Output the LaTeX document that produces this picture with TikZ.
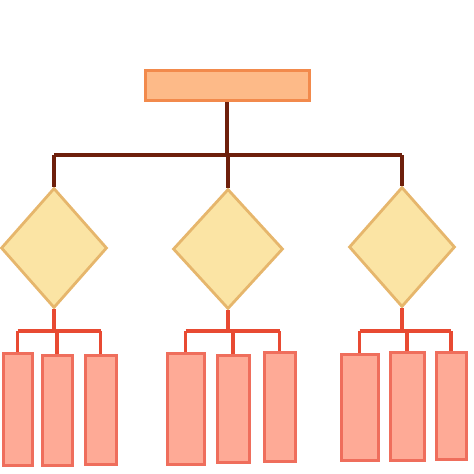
\documentclass[tikz,border=0pt]{standalone}
\usetikzlibrary{shapes.geometric}
\definecolor{topfill}{HTML}{FDBA88}
\definecolor{topline}{HTML}{F28A4C}
\definecolor{brownline}{HTML}{6E200C}
\definecolor{diafill}{HTML}{FBE4A4}
\definecolor{dialine}{HTML}{E6B66C}
\definecolor{redline}{HTML}{E84A32}
\definecolor{leaffill}{HTML}{FEAA96}
\definecolor{leafline}{HTML}{EF6E5C}
\tikzset{
  topbox/.style={draw=topline, fill=topfill, line width=3pt, minimum width=164pt, minimum height=30pt, inner sep=0pt},
  decision/.style={diamond, draw=dialine, fill=diafill, line width=2.8pt, inner sep=0pt, minimum width=#1, minimum height=120pt},
  leaf/.style={draw=leafline, fill=leaffill, line width=3pt, inner sep=0pt},
  trunk/.style={draw=brownline, line width=3.2pt},
  branch/.style={draw=redline, line width=3.2pt}
}
\begin{document}
\begin{tikzpicture}[x=1pt,y=-1pt]
\useasboundingbox (0,0) rectangle (474,474);
\node[topbox] (top) at (227,85.5) {};
\node[decision=106pt] (d1) at (54,248) {};
\node[decision=110pt] (d2) at (228,249) {};
\node[decision=106pt] (d3) at (402,247) {};
% leaves
\node[leaf, minimum width=29pt, minimum height=112pt] (r1) at (17.5,409) {};
\node[leaf, minimum width=30pt, minimum height=110pt] (r2) at (57,410) {};
\node[leaf, minimum width=31pt, minimum height=109pt] (r3) at (100.5,409.5) {};
\node[leaf, minimum width=37pt, minimum height=111pt] (r4) at (185.5,408.5) {};
\node[leaf, minimum width=32pt, minimum height=107pt] (r5) at (233,408.5) {};
\node[leaf, minimum width=31pt, minimum height=109pt] (r6) at (279.5,406.5) {};
\node[leaf, minimum width=37pt, minimum height=106pt] (r7) at (359.5,407) {};
\node[leaf, minimum width=34pt, minimum height=108pt] (r8) at (407,406) {};
\node[leaf, minimum width=30pt, minimum height=107pt] (r9) at (451,405.5) {};
% trunk
\coordinate (bus) at (0,155);
\draw[trunk] (top.south) -- (top.south |- bus);
\draw[trunk] (d1.north |- bus) -- (d3.north |- bus);
\draw[trunk] (d1.north |- bus) -- (d1.north);
\draw[trunk] (d2.north |- bus) -- (d2.north);
\draw[trunk] (d3.north |- bus) -- (d3.north);
% branches
\coordinate (rb) at (0,331);
\foreach \d/\a/\b/\c in {d1/r1/r2/r3, d2/r4/r5/r6, d3/r7/r8/r9}{
  \draw[branch] (\d.south) -- (\d.south |- rb);
  \draw[branch] (\a.north |- rb) -- (\c.north |- rb);
  \draw[branch] (\a.north |- rb) -- (\a.north);
  \draw[branch] (\b.north |- rb) -- (\b.north);
  \draw[branch] (\c.north |- rb) -- (\c.north);
}
\end{tikzpicture}
\end{document}
